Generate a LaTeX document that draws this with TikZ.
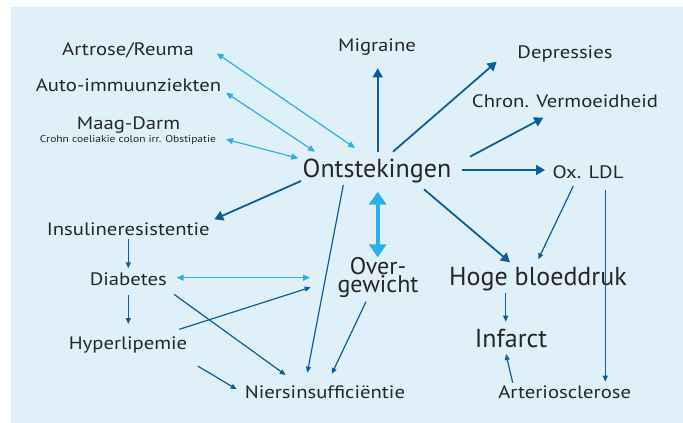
\documentclass[tikz,border=0pt]{standalone}
\usepackage{fontspec}
\setmainfont{PT Sans}
\newfontfamily\widefont[FakeStretch=1.15]{PT Sans}
\usetikzlibrary{arrows.meta}
\definecolor{bgc}{RGB}{223,240,249}
\definecolor{dkc}{RGB}{13,93,153}
\definecolor{ltc}{RGB}{41,176,230}
\definecolor{txc}{RGB}{38,38,38}
\newcommand\myovfont{\fontsize{24}{18}\selectfont\lineskiplimit=-50pt\relax}
\begin{document}
\begin{tikzpicture}[x=1pt,y=-1pt,
  lbl/.style={anchor=base,text=txc,inner sep=0pt,font=\widefont\fontsize{18}{20}\selectfont},
  biglbl/.style={lbl,font=\rmfamily\fontsize{26}{28}\selectfont},
  tinylbl/.style={lbl,font=\widefont\fontsize{10}{12}\selectfont},
  darr/.style={draw=dkc,line width=1.2pt,-{Triangle[length=6pt,width=5pt]}},
  darrb/.style={draw=dkc,line width=1.8pt,-{Triangle[length=9pt,width=10pt]}},
  larr/.style={draw=ltc,line width=1.2pt,{Triangle[length=7pt,width=6pt]}-{Triangle[length=7pt,width=6pt]}},
  ovarr/.style={draw=ltc,line width=4pt,{Triangle[length=13pt,width=17pt]}-{Triangle[length=13pt,width=17pt]}}
  ]
\fill[white] (0,0) rectangle (683,423);
\useasboundingbox (0,0) rectangle (683,423);
\fill[bgc] (11,7) rectangle (683,423);

\node[lbl] (art) at (128,55.7) {Artrose/Reuma};
\node[lbl] (aut) at (128.5,91) {Auto-immuunziekten};
\node[lbl] (maag) at (128.5,129) {Maag-Darm};
\node[tinylbl] (cro) at (128,142) {Crohn coeliakie colon irr. Obstipatie};
\node[lbl] (mig) at (377,51.7) {Migraine};
\node[lbl] (dep) at (565,58) {Depressies};
\node[lbl] (chr) at (565,107.3) {Chron. Vermoeidheid};
\node[biglbl] (ont) at (377,177) {Ontstekingen};
\node[lbl] (ox) at (588,178) {Ox. LDL};
\node[lbl] (ins) at (128.3,235) {Insulineresistentie};
\node[lbl] (dia) at (128.3,285) {Diabetes};
\node[lbl] (hyp) at (128,349.5) {Hyperlipemie};
\node[lbl,align=center,font=\myovfont] (ovr) at (378,292.5) {Over-\\gewicht};
\node[biglbl] (hoge) at (538,285.5) {Hoge bloeddruk};
\node[biglbl] (inf) at (511,347.8) {Infarct};
\node[lbl] (nier) at (325,398) {Niersinsufficiëntie};
\node[lbl] (arts) at (564.7,398.5) {Arteriosclerose};

\draw[larr] ([shift={(88.7,-2.4)}]art.base) -- ([shift={(-22,-29)}]ont.base);
\draw[larr] ([shift={(97.5,1.7)}]aut.base) -- ([shift={(-62,-25.3)}]ont.base);
\draw[larr] ([shift={(98,-2.7)}]cro.base) -- ([shift={(-78.7,-18.7)}]ont.base);
\draw[darrb] ([shift={(0.7,-25.3)}]ont.base) -- ([shift={(0.7,16.6)}]mig.base);
\draw[darrb] ([shift={(16,-25.3)}]ont.base) -- ([shift={(-68.3,3.7)}]dep.base);
\draw[darrb] ([shift={(93,-20.3)}]ont.base) -- ([shift={(-21.7,10.4)}]chr.base);
\draw[darrb] ([shift={(84.7,-7)}]ont.base) -- ([shift={(-43,-8)}]ox.base);
\draw[darrb] ([shift={(47,12.3)}]ont.base) -- ([shift={(-28,-23.2)}]hoge.base);
\draw[darr] ([shift={(-33.7,8)}]ont.base) -- ([shift={(-17.7,-25.3)}]nier.base);
\draw[darrb] ([shift={(-76,4)}]ont.base) -- ([shift={(86,-15.7)}]ins.base);
\draw[ovarr] ([shift={(0.7,14.7)}]ont.base) -- ([shift={(-0.3,-35.2)}]ovr.base);
\draw[larr] ([shift={(48.4,-7.3)}]dia.base) -- ([shift={(-68,-14.8)}]ovr.base);
\draw[darr] ([shift={(51.3,-20.2)}]hyp.base) -- ([shift={(-67.3,-5.2)}]ovr.base);
\draw[darr] ([shift={(-12,9.2)}]ovr.base) -- ([shift={(6.7,-24)}]nier.base);
\draw[darr] ([shift={(0,4.3)}]ins.base) -- ([shift={(0,-16.7)}]dia.base);
\draw[darr] ([shift={(0,10)}]dia.base) -- ([shift={(0.3,-25.5)}]hyp.base);
\draw[darr] ([shift={(45.7,9.3)}]dia.base) -- ([shift={(-39.3,-23)}]nier.base);
\draw[darr] ([shift={(69.7,16.5)}]hyp.base) -- ([shift={(-88.3,-8.7)}]nier.base);
\draw[darr] ([shift={(-14.7,8)}]ox.base) -- ([shift={(0.3,-26.2)}]hoge.base);
\draw[darr] ([shift={(17.3,12)}]ox.base) -- ([shift={(40.6,-16.8)}]arts.base);
\draw[darr] ([shift={(-32.3,7.8)}]hoge.base) -- ([shift={(-5.3,-26.1)}]inf.base);
\draw[darr] ([shift={(-52,-15.8)}]arts.base) -- ([shift={(-5,6.2)}]inf.base);
\end{tikzpicture}
\end{document}
